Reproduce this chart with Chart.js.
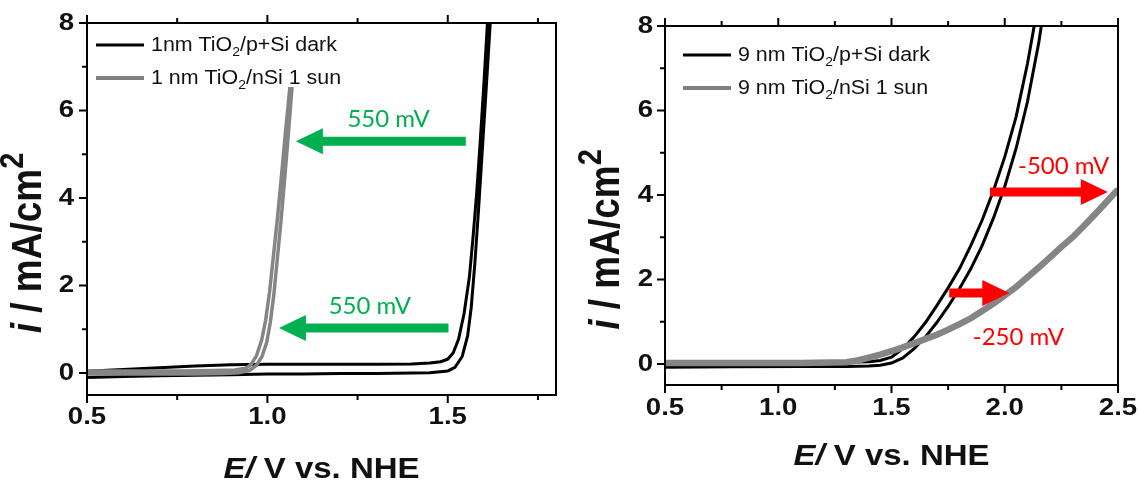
<!DOCTYPE html>
<html>
<head>
<meta charset="utf-8">
<script src="https://cdn.jsdelivr.net/npm/chart.js@4.4.1/dist/chart.umd.min.js"></script>
<style>
  body { margin: 0; background: #fff; }
  canvas { position: absolute; top: 0; }
  #left { left: 0; }
  #right { left: 569px; }
</style>
</head>
<body>
<canvas id="left" width="569" height="484"></canvas>
<canvas id="right" width="569" height="484"></canvas>
<script>
// ---- data ----
// left panel: 1 nm TiO2
const leftDarkE = [0.5, 0.6, 0.7, 0.8, 0.9, 1.0, 1.1, 1.2, 1.3, 1.4, 1.45, 1.5, 1.52, 1.54, 1.555, 1.565, 1.575, 1.585, 1.595, 1.605, 1.62,
                   1.612, 1.6, 1.59, 1.58, 1.57, 1.56, 1.545, 1.53, 1.515, 1.5, 1.48, 1.45, 1.4, 1.3, 1.2, 1.1, 1.0, 0.9, 0.8, 0.7, 0.6, 0.5];
const leftDarkI = [-0.1, -0.08, -0.06, -0.05, -0.04, -0.02, -0.02, -0.01, -0.01, 0.0, 0.01, 0.05, 0.13, 0.38, 0.85, 1.5, 2.5, 3.7, 5.0, 6.3, 8.3,
                   8.3, 6.6, 5.3, 4.1, 3.1, 2.2, 1.35, 0.78, 0.46, 0.32, 0.26, 0.23, 0.21, 0.2, 0.2, 0.2, 0.2, 0.19, 0.16, 0.12, 0.08, 0.04];
const leftSunE = [0.5, 0.6, 0.7, 0.8, 0.88, 0.92, 0.95, 0.97, 0.985, 0.998, 1.008, 1.018, 1.028, 1.038, 1.048, 1.058, 1.068,
                  1.062, 1.05, 1.039, 1.028, 1.017, 1.006, 0.995, 0.984, 0.97, 0.955, 0.94, 0.91, 0.85, 0.75, 0.65, 0.5];
const leftSunI = [-0.02, -0.02, -0.02, -0.02, -0.01, 0.01, 0.06, 0.18, 0.38, 0.7, 1.15, 1.8, 2.65, 3.5, 4.45, 5.45, 6.5,
                  6.5, 5.5, 4.5, 3.55, 2.7, 1.85, 1.2, 0.75, 0.4, 0.2, 0.11, 0.07, 0.06, 0.05, 0.05, 0.05];

// right panel: 9 nm TiO2
const rightDarkE = [0.5, 0.8, 1.1, 1.3, 1.4, 1.45, 1.5, 1.55, 1.6, 1.65, 1.7, 1.75, 1.8, 1.85, 1.9, 1.95, 2.0, 2.05, 2.1, 2.15, 2.17,
                    2.14, 2.1, 2.05, 2.0, 1.95, 1.9, 1.85, 1.8, 1.75, 1.7, 1.65, 1.6, 1.55, 1.5, 1.45, 1.4, 1.3, 1.1, 0.8, 0.5];
const rightDarkI = [-0.08, -0.07, -0.06, -0.06, -0.05, -0.03, 0.02, 0.14, 0.36, 0.64, 0.98, 1.36, 1.78, 2.25, 2.8, 3.45, 4.2, 5.1, 6.2, 7.6, 8.3,
                    8.3, 7.1, 5.85, 4.9, 4.1, 3.4, 2.8, 2.25, 1.8, 1.38, 0.98, 0.64, 0.36, 0.16, 0.08, 0.05, 0.04, 0.04, 0.04, 0.03];
const rightSunE = [0.5, 0.8, 1.1, 1.3, 1.35, 1.4, 1.45, 1.5, 1.55, 1.6, 1.65, 1.7, 1.75, 1.8, 1.85, 1.9, 1.95, 2.0, 2.05, 2.1, 2.15, 2.2, 2.25, 2.3, 2.35, 2.4, 2.45, 2.5];
const rightSunI = [0.02, 0.02, 0.02, 0.04, 0.08, 0.15, 0.22, 0.3, 0.39, 0.49, 0.59, 0.69, 0.81, 0.94, 1.08, 1.25, 1.43, 1.62, 1.82, 2.05, 2.28, 2.52, 2.77, 3.0, 3.27, 3.55, 3.84, 4.13];

// ticks
const leftTicksX = [0.5, 1.0, 1.5];
const leftMinorX = [0.75, 1.25, 1.75];
const rightTicksX = [0.5, 1.0, 1.5, 2.0, 2.5];
const rightMinorX = [0.75, 1.25, 1.75, 2.25];
const ticksY = [0, 2, 4, 6, 8];
const minorY = [1, 3, 5, 7];

// legend text: [before subscript, subscript, after]
const leftLegend = [['1nm TiO', '2', '/p+Si dark'], ['1 nm TiO', '2', '/nSi 1 sun']];
const rightLegend = [['9 nm TiO', '2', '/p+Si dark'], ['9 nm TiO', '2', '/nSi 1 sun']];

// annotations (data coordinates)
const leftArrows = [{ from: [1.55, 5.3], to: [1.079, 5.3] }, { from: [1.502, 1.03], to: [1.032, 1.03] }];
const leftNotes = [{ x: 1.336, y: 5.8, text: '550 mV' }, { x: 1.284, y: 1.53, text: '550 mV' }];
const rightArrows = [{ from: [1.935, 4.07], to: [2.455, 4.07] }, { from: [1.755, 1.68], to: [2.02, 1.68] }];
const rightNotes = [{ x: 2.26, y: 4.67, text: '-500 mV' }, { x: 2.06, y: 0.62, text: '-250 mV' }];

const GREEN = '#00b050';
const RED = '#ff0000';
const SX = 1.15; // the figure text is a little wider than tall

function pts(E, I) {
  return E.map((e, i) => ({ x: e, y: I[i] }));
}

function richWidth(ctx, parts) {
  let w = 0;
  parts.forEach(p => { ctx.font = p.font; w += ctx.measureText(p.t).width; });
  return w;
}

// draws text pieces side by side, stretched by sx along the text direction and sy across it
function drawRich(ctx, parts, x, y, sx, sy) {
  ctx.save();
  ctx.translate(x, y);
  ctx.scale(sx, sy);
  let cx = 0;
  ctx.textAlign = 'left';
  parts.forEach(p => {
    ctx.font = p.font;
    ctx.fillText(p.t, cx, p.dy || 0);
    cx += ctx.measureText(p.t).width;
  });
  ctx.restore();
}

function label(ctx, text, x, y, align) {
  const w = ctx.measureText(text).width * SX;
  const left = align === 'center' ? x - w / 2 : align === 'right' ? x - w : x;
  ctx.save();
  ctx.translate(left, y);
  ctx.scale(SX, 1);
  ctx.textAlign = 'left';
  ctx.fillText(text, 0, 0);
  ctx.restore();
}

function arrow(ctx, x0, x1, y, color) {
  const dir = Math.sign(x1 - x0);
  const head = 27, hh = 13, sw = 4.5;
  ctx.fillStyle = color;
  ctx.beginPath();
  ctx.moveTo(x0, y - sw);
  ctx.lineTo(x1 - dir * head, y - sw);
  ctx.lineTo(x1 - dir * head, y - hh);
  ctx.lineTo(x1, y);
  ctx.lineTo(x1 - dir * head, y + hh);
  ctx.lineTo(x1 - dir * head, y + sw);
  ctx.lineTo(x0, y + sw);
  ctx.closePath();
  ctx.fill();
}

function framePlugin(cfg) {
  return {
    id: 'frame',
    afterDatasetsDraw(chart) {
      const { ctx, chartArea: a, scales: { x, y } } = chart;
      ctx.save();
      ctx.strokeStyle = '#000';
      ctx.lineWidth = 2;
      ctx.strokeRect(a.left, a.top, a.right - a.left, a.bottom - a.top);
      ctx.beginPath();
      cfg.xMajor.concat(cfg.xMinor).forEach(v => {
        const len = cfg.xMajor.includes(v) ? 8 : 5;
        const px = x.getPixelForValue(v);
        ctx.moveTo(px, a.bottom); ctx.lineTo(px, a.bottom + len);
        ctx.moveTo(px, a.top); ctx.lineTo(px, a.top - len);
      });
      ticksY.concat(minorY).forEach(v => {
        const len = ticksY.includes(v) ? 8 : 5;
        const py = y.getPixelForValue(v);
        ctx.moveTo(a.left, py); ctx.lineTo(a.left - len, py);
      });
      ctx.stroke();

      // tick labels
      ctx.fillStyle = '#111';
      ctx.font = 'bold 24px "Liberation Sans"';
      ctx.textBaseline = 'middle';
      cfg.xMajor.forEach(v => label(ctx, v.toFixed(1), x.getPixelForValue(v), a.bottom + cfg.xLabGap, 'center'));
      ticksY.forEach(v => label(ctx, String(v), a.left - cfg.yLabGap, y.getPixelForValue(v), 'right'));

      // arrows and notes
      cfg.arrows.forEach(ar => {
        arrow(ctx, x.getPixelForValue(ar.from[0]), x.getPixelForValue(ar.to[0]), y.getPixelForValue(ar.from[1]), cfg.noteColor);
      });
      ctx.fillStyle = cfg.noteColor;
      ctx.font = '24px Lato';
      ctx.textAlign = 'center';
      ctx.textBaseline = 'middle';
      cfg.notes.forEach(n => ctx.fillText(n.text, x.getPixelForValue(n.x), y.getPixelForValue(n.y)));

      // legend
      ctx.textBaseline = 'middle';
      cfg.legend.forEach((lab, i) => {
        const ly = a.top + cfg.legTop + i * 33;
        ctx.strokeStyle = i === 0 ? '#000' : '#808080';
        ctx.lineWidth = i === 0 ? 3 : 4;
        ctx.beginPath();
        ctx.moveTo(a.left + cfg.legX, ly);
        ctx.lineTo(a.left + cfg.legX + 48, ly);
        ctx.stroke();
        ctx.fillStyle = '#111';
        drawRich(ctx, [
          { t: lab[0], font: '20px "Liberation Sans"' },
          { t: lab[1], font: '13px "Liberation Sans"', dy: 7 },
          { t: lab[2], font: '20px "Liberation Sans"' }
        ], a.left + cfg.legX + 55, ly, 1.07, 1);
      });

      // axis titles
      ctx.fillStyle = '#111';
      ctx.textBaseline = 'middle';
      const xt = [
        { t: 'E/', font: 'italic bold 30px "Liberation Sans"' },
        { t: ' V vs. NHE', font: 'bold 30px "Liberation Sans"' }
      ];
      const cx = (a.left + a.right) / 2;
      drawRich(ctx, xt, cx - richWidth(ctx, xt) * 1.1 / 2, a.bottom + cfg.xTitleGap, 1.1, 1);

      const yt = [
        { t: 'i', font: 'italic bold 37px "Liberation Sans"' },
        { t: ' / mA/cm', font: 'bold 37px "Liberation Sans"' },
        { t: '2', font: 'bold 29px "Liberation Sans"', dy: -13 }
      ];
      ctx.save();
      ctx.translate(a.left - 58, (a.top + a.bottom) / 2 + 34);
      ctx.rotate(-Math.PI / 2);
      drawRich(ctx, yt, -richWidth(ctx, yt) / 2, 0, 1, SX);
      ctx.restore();
      ctx.restore();
    }
  };
}

function panel(id, cfg) {
  return new Chart(document.getElementById(id), {
    type: 'scatter',
    data: {
      datasets: cfg.series.map(s => ({
        data: pts(s.E, s.I),
        showLine: true,
        borderColor: s.color,
        borderWidth: s.width,
        pointRadius: 0,
        tension: 0,
        clip: 0,
        order: s.order
      }))
    },
    options: {
      responsive: false,
      animation: false,
      devicePixelRatio: 1,
      layout: { padding: { top: cfg.top, right: cfg.right, left: 0, bottom: 0 } },
      plugins: { legend: { display: false }, tooltip: { enabled: false } },
      scales: {
        x: {
          type: 'linear',
          min: 0.5,
          max: cfg.xMax,
          afterBuildTicks: s => { s.ticks = cfg.xMajor.map(v => ({ value: v })); },
          afterFit: s => { s.height = cfg.xAxisH; },
          grid: { display: false },
          border: { display: false },
          ticks: { display: false }
        },
        y: {
          type: 'linear',
          min: -0.5,
          max: 8,
          afterBuildTicks: s => { s.ticks = ticksY.map(v => ({ value: v })); },
          afterFit: s => { s.width = cfg.yAxisW; },
          grid: { display: false },
          border: { display: false },
          ticks: { display: false }
        }
      }
    },
    plugins: [framePlugin(cfg)]
  });
}

panel('left', {
  xMax: 1.8, top: 23, right: 13, xAxisH: 89, yAxisW: 87,
  xMajor: leftTicksX, xMinor: leftMinorX,
  xLabGap: 22, yLabGap: 13, xTitleGap: 75,
  series: [
    { E: leftSunE, I: leftSunI, color: '#858585', width: 3.5, order: 1 },
    { E: leftDarkE, I: leftDarkI, color: '#000000', width: 3, order: 2 }
  ],
  arrows: leftArrows, notes: leftNotes, noteColor: GREEN,
  legend: leftLegend, legX: 9, legTop: 22
});

panel('right', {
  xMax: 2.5, top: 26, right: 20, xAxisH: 99, yAxisW: 96,
  xMajor: rightTicksX, xMinor: rightMinorX,
  xLabGap: 23, yLabGap: 12, xTitleGap: 72,
  series: [
    { E: rightSunE, I: rightSunI, color: '#858585', width: 6.5, order: 1 },
    { E: rightDarkE, I: rightDarkI, color: '#000000', width: 3, order: 2 }
  ],
  arrows: rightArrows, notes: rightNotes, noteColor: RED,
  legend: rightLegend, legX: 18, legTop: 29
});
</script>
</body>
</html>
